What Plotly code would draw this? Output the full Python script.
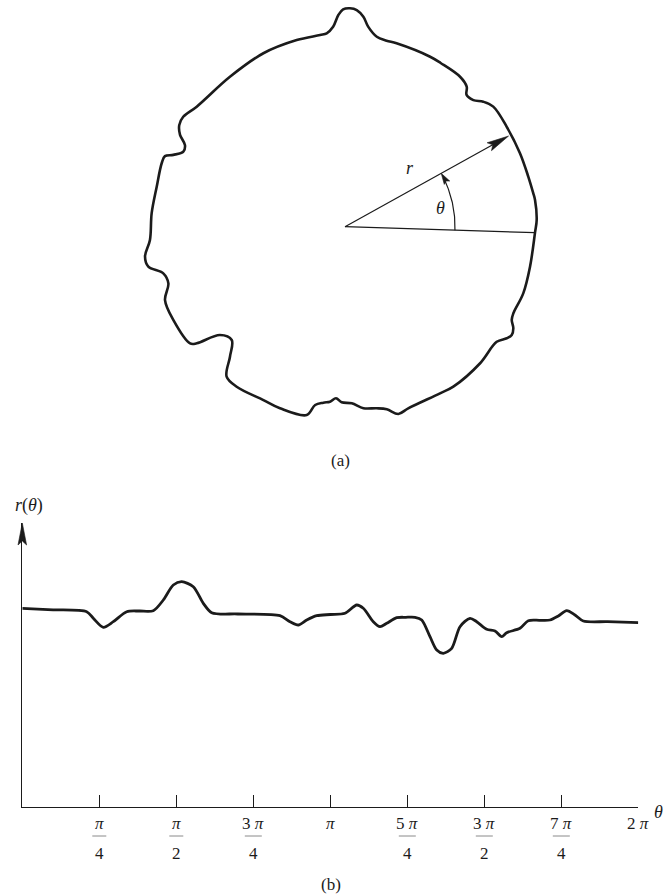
import numpy as np
import plotly.graph_objects as go

# ---------------------------------------------------------------------------
# (a) closed profile: polar samples (angle in degrees, radius) about the centre
# ---------------------------------------------------------------------------
outline_theta_deg = [
    2.0, 8.0, 10.1, 15.3, 22.8, 31.7, 39.0, 42.1, 44.6, 47.3, 49.0, 52.5,
    59.7, 63.4, 74.3, 77.4, 80.5, 83.4, 85.0, 86.9, 88.7, 90.5, 91.8, 93.4,
    95.4, 97.4, 104.5, 115.2, 127.5, 141.0, 145.8, 148.5, 150.9, 153.0, 155.1,
    157.3, 158.6, 160.9, 168.0, 176.0, 183.9, 188.5, 191.5, 194.4, 197.8,
    202.2, 208.5, 217.0, 218.2, 220.9, 225.0, 228.5, 231.7, 235.9, 244.8,
    250.3, 258.5, 260.5, 263.0, 265.1, 267.0, 268.9, 272.2, 275.8, 279.9,
    282.9, 285.9, 289.2, 299.7, 304.1, 314.7, 322.8, 325.4, 327.0, 328.9,
    330.8, 332.8, 339.5, 347.8, 358.2,
]
outline_radius = [
    191.8, 191.9, 191.2, 190.0, 189.8, 190.1, 190.8, 186.4, 180.3, 179.3, 185.5, 189.0,
    189.6, 190.1, 190.5, 190.6, 192.6, 201.4, 210.8, 217.0, 218.5, 217.4, 211.8, 200.3,
    194.3, 193.3, 192.8, 191.7, 189.0, 190.8, 195.6, 194.4, 188.8, 179.6, 178.2,
    186.1, 193.4, 194.0, 192.5, 193.8, 195.5, 202.2, 200.7, 187.6, 185.5,
    194.4, 195.4, 194.0, 188.6, 165.4, 160.2, 173.6, 191.0, 193.2, 191.6,
    192.9, 192.2, 180.8, 177.3, 175.6, 171.8, 175.6, 176.7, 182.5, 184.3,
    187.3, 194.7, 192.3, 191.8, 193.2, 192.1, 190.4, 196.5, 198.8, 196.6,
    191.0, 189.3, 190.3, 189.3, 190.1,
]

ray_theta_deg = 29.0
ray_length = 187.0
reference_theta_deg = -1.8
reference_length = 190.0
arc_radius = 110.0

# ---------------------------------------------------------------------------
# (b) the same profile unrolled: r(θ), θ in multiples of π
# ---------------------------------------------------------------------------
profile_theta_pi = [
    0.0, 0.10, 0.209, 0.2305, 0.263, 0.2955, 0.339, 0.38, 0.4253, 0.4578,
    0.4903, 0.5175, 0.5552, 0.5877, 0.6149, 0.70, 0.8367, 0.8692, 0.8961,
    0.9234, 0.9558, 1.0, 1.0477, 1.0857, 1.1071, 1.1396, 1.1614, 1.1831,
    1.2156, 1.245, 1.275, 1.2968, 1.3237, 1.3455, 1.3669, 1.3942, 1.4211,
    1.4536, 1.4753, 1.5078, 1.5347, 1.5565, 1.5727, 1.6159, 1.6429, 1.68,
    1.7133, 1.7403, 1.7675, 1.7945, 1.8214, 1.90, 2.0,
]
profile_r = [
    198.7, 197.2, 195.3, 188.7, 179.7, 185.3, 195.3, 196.0, 196.3, 207.0,
    222.0, 225.3, 220.3, 203.7, 194.3, 193.0, 191.3, 185.3, 182.0,
    187.0, 191.3, 192.5, 193.7, 202.0, 198.7, 185.3, 180.3, 183.7,
    189.3, 189.7, 189.7, 187.0, 170.3, 157.0, 153.7, 158.7, 180.3,
    188.7, 185.3, 177.7, 176.0, 170.3, 174.3, 178.7, 186.3, 186.7,
    187.0, 191.0, 196.3, 192.0, 186.0, 185.3, 184.3,
]
r_axis_top = 284.0

# θ-axis ticks at k·π/4
tick_multiples = [1, 2, 3, 4, 5, 6, 7, 8]
tick_numerators = ["π", "π", "3 π", "π", "5 π", "3 π", "7 π", "2 π"]
tick_denominators = ["4", "2", "4", "", "4", "2", "4", ""]

# ---------------------------------------------------------------------------
W, H = 667, 894
INK = "#1b1b1b"
SERIF = "Liberation Serif, Times New Roman, serif"

# page layout (pixels)
A_CX, A_CY = 345.0, 226.7          # centre of the profile in (a)
A_BOTTOM = 447.0                   # lower edge of the (a) panel
B_X0, B_X1 = 22.3, 638.3           # θ = 0 and θ = 2π
B_Y0, B_Y1 = 807.0, 523.0          # r = 0 and top of the r axis


def px(x):
    return x / W


def py(y):
    return 1 - y / H


def arrow_head(tip_x, tip_y, direction_deg, length, half_width):
    """Slightly notched arrow head polygon pointing along direction_deg."""
    d = np.radians(direction_deg)
    ux, uy = np.cos(d), np.sin(d)
    nx, ny = -uy, ux
    pts = [
        (0.0, 0.0),
        (-ux * length + nx * half_width, -uy * length + ny * half_width),
        (-ux * length * 0.82, -uy * length * 0.82),
        (-ux * length - nx * half_width, -uy * length - ny * half_width),
        (0.0, 0.0),
    ]
    return [tip_x + p[0] for p in pts], [tip_y + p[1] for p in pts]


def head_trace(xs, ys, xaxis, yaxis):
    return go.Scatter(
        x=xs, y=ys, mode="lines", fill="toself", fillcolor=INK,
        line=dict(color=INK, width=0.6),
        xaxis=xaxis, yaxis=yaxis, hoverinfo="skip", showlegend=False,
    )


fig = go.Figure()

# ---- (a) outline --------------------------------------------------------
th = np.radians(np.array(outline_theta_deg + [outline_theta_deg[0]]))
rr = np.array(outline_radius + [outline_radius[0]])
fig.add_trace(go.Scatter(
    x=rr * np.cos(th), y=rr * np.sin(th), mode="lines",
    line=dict(color=INK, width=2.6, shape="spline", smoothing=1.0),
    xaxis="x", yaxis="y", hoverinfo="skip", showlegend=False,
))

# reference direction
ref = np.radians(reference_theta_deg)
fig.add_trace(go.Scatter(
    x=[0, reference_length * np.cos(ref)], y=[0, reference_length * np.sin(ref)],
    mode="lines", line=dict(color=INK, width=1.2),
    xaxis="x", yaxis="y", hoverinfo="skip", showlegend=False,
))

# radius vector with its arrow head
ray = np.radians(ray_theta_deg)
head_len = 22.0
fig.add_trace(go.Scatter(
    x=[0, (ray_length - head_len * 0.8) * np.cos(ray)],
    y=[0, (ray_length - head_len * 0.8) * np.sin(ray)],
    mode="lines", line=dict(color=INK, width=1.2),
    xaxis="x", yaxis="y", hoverinfo="skip", showlegend=False,
))
hx, hy = arrow_head(ray_length * np.cos(ray), ray_length * np.sin(ray),
                    ray_theta_deg, head_len, 4.5)
fig.add_trace(head_trace(hx, hy, "x", "y"))

# angle arc θ with arrow head ending on the radius vector
arc_head = 11.0
arc_end_deg = ray_theta_deg - np.degrees(arc_head * 0.8 / arc_radius)
arc_t = np.radians(np.linspace(reference_theta_deg, arc_end_deg, 40))
fig.add_trace(go.Scatter(
    x=arc_radius * np.cos(arc_t), y=arc_radius * np.sin(arc_t),
    mode="lines", line=dict(color=INK, width=1.2),
    xaxis="x", yaxis="y", hoverinfo="skip", showlegend=False,
))
ax_, ay_ = arrow_head(arc_radius * np.cos(ray), arc_radius * np.sin(ray),
                      ray_theta_deg + 90 + np.degrees(arc_head / (2 * arc_radius)),
                      arc_head, 3.2)
fig.add_trace(head_trace(ax_, ay_, "x", "y"))

# ---- (b) r(θ) -----------------------------------------------------------
fig.add_trace(go.Scatter(
    x=np.array(profile_theta_pi) * np.pi, y=profile_r, mode="lines",
    line=dict(color=INK, width=2.8, shape="spline", smoothing=0.8),
    xaxis="x2", yaxis="y2", hoverinfo="skip", showlegend=False,
))

# arrow head on top of the r axis, drawn on a page-wide overlay in pixels
yx, yy = arrow_head(B_X0, B_Y1, -90, 22.0, 4.3)
fig.add_trace(head_trace(yx, yy, "x3", "y3"))

# ---- text ----------------------------------------------------------------
annotations = []
shapes = []


def label(text, x, y, size=17, xref="paper", yref="paper"):
    annotations.append(dict(
        text=text, x=x, y=y, xref=xref, yref=yref, showarrow=False,
        xanchor="center", yanchor="middle",
        font=dict(family=SERIF, size=size, color=INK),
    ))


label("<i>r</i>", 65.0, 58.4, size=18, xref="x", yref="y")
label("<i>θ</i>", 95.0, 18.4, size=18, xref="x", yref="y")
label("(a)", px(340), py(460), size=17)
label("(b)", px(331), py(884), size=17)
label("<i>r</i>(<i>θ</i>)", px(29), py(505), size=18)
label("<i>θ</i>", px(658), py(812), size=18)

for k, num, den in zip(tick_multiples, tick_numerators, tick_denominators):
    tv = k * np.pi / 4
    num_html = num.replace("π", "<i>π</i>")
    label(num_html, tv, py(B_Y0 + 16), size=17, xref="x2")
    if den:
        half = 7 if len(num) == 1 else 8.5
        shapes.append(dict(
            type="line", xref="x2", yref="paper", xsizemode="pixel", xanchor=tv,
            x0=-half, x1=half, y0=py(B_Y0 + 29), y1=py(B_Y0 + 29),
            line=dict(color="#8a8a8a", width=1),
        ))
        label(den, tv, py(B_Y0 + 46), size=17, xref="x2")

hidden = dict(visible=False, showgrid=False, zeroline=False)

fig.update_layout(
    width=W, height=H,
    margin=dict(l=0, r=0, t=0, b=0, pad=0),
    paper_bgcolor="white", plot_bgcolor="rgba(0,0,0,0)",
    showlegend=False,
    xaxis=dict(domain=[0, 1], range=[-A_CX, W - A_CX], **hidden),
    yaxis=dict(domain=[py(A_BOTTOM), 1], range=[A_CY - A_BOTTOM, A_CY], **hidden),
    xaxis2=dict(
        domain=[px(B_X0), px(B_X1)], range=[0, 2 * np.pi], anchor="y2",
        showline=True, linecolor=INK, linewidth=1.4,
        ticks="inside", ticklen=12, tickwidth=1.3, tickcolor=INK,
        tickvals=[k * np.pi / 4 for k in tick_multiples],
        showticklabels=False, showgrid=False, zeroline=False,
    ),
    yaxis2=dict(
        domain=[py(B_Y0), py(B_Y1)], range=[0, r_axis_top], anchor="x2",
        showline=True, linecolor=INK, linewidth=1.4,
        ticks="", showticklabels=False, showgrid=False, zeroline=False,
    ),
    xaxis3=dict(domain=[0, 1], range=[0, W], anchor="y3", **hidden),
    yaxis3=dict(domain=[0, 1], range=[H, 0], anchor="x3", **hidden),
    annotations=annotations,
    shapes=shapes,
)

fig.write_html("out.html")
